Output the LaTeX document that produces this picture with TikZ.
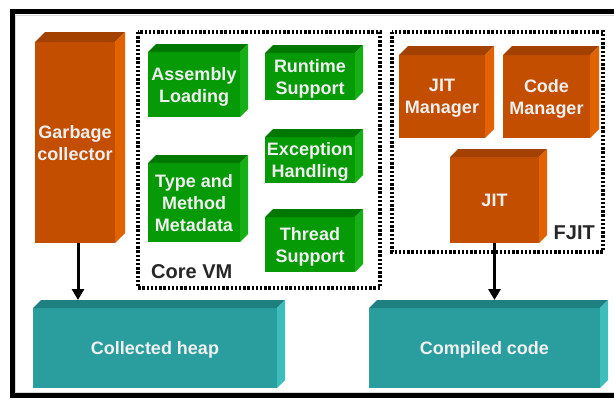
\documentclass[tikz,border=0pt]{standalone}
\usepackage{fontspec}
\setmainfont{Liberation Sans}
\usetikzlibrary{arrows.meta}
\definecolor{orF}{HTML}{C44E00}
\definecolor{orT}{HTML}{A34100}
\definecolor{orS}{HTML}{E36200}
\definecolor{grF}{HTML}{069A06}
\definecolor{grT}{HTML}{007800}
\definecolor{grS}{HTML}{14B014}
\definecolor{tlF}{HTML}{2A9E9E}
\definecolor{tlT}{HTML}{1E8080}
\definecolor{tlS}{HTML}{3EBDBD}
\newcommand{\cubefaces}[4]{%
  \fill[#3] (#1.north west) -- ++(#2,-#2) -- ([shift={(#2,-#2)}]#1.north east) -- (#1.north east) -- cycle;
  \fill[#4] (#1.north east) -- ++(#2,-#2) -- ([shift={(#2,-#2)}]#1.south east) -- (#1.south east) -- cycle;
}
\begin{document}
\begin{tikzpicture}[x=1pt,y=-1pt,
  box/.style={inner sep=0pt, outer sep=0pt, anchor=north west, text=white!94!black, align=center,
    text depth=0pt, font=\bfseries\fontsize{18}{22}\selectfont},
  orbox/.style={box, fill=orF},
  grbox/.style={box, fill=grF},
  tlbox/.style={box, fill=tlF},
  dotted frame/.style={draw=black, line width=3.2pt, dash pattern=on 2.4pt off 1.8pt},
  grouplabel/.style={font=\bfseries\fontsize{20}{24}\selectfont, text=black!85, inner sep=0pt},
  arr/.style={draw=black, line width=3pt, -{Triangle[width=12pt,length=11pt]}}]
\useasboundingbox (0,0) rectangle (614,399);
\fill[white] (0,0) rectangle (614,399);
% outer frame
\draw[black!15, line width=1pt] (614,15) -- (15.5,15) -- (15.5,392) -- (614,392);
\draw[line width=5.5pt] (614,11.5) -- (12.5,11.5) -- (12.5,395.5) -- (614,395.5);
% dotted group frames
\draw[dotted frame] (138,32) rectangle (380,288);
\draw[dotted frame] (392,32) rectangle (603,252);
\node[grouplabel, anchor=west] (corevm) at (151,272) {Core VM};
\node[grouplabel, anchor=east] (fjit) at (595,233) {FJIT};
% garbage collector
\node[orbox, minimum width=80pt, minimum height=201pt] (gc) at (35,42) {Garbage\\collector};
\cubefaces{gc}{10}{orT}{orS}
% core VM boxes
\node[grbox, minimum width=92pt, minimum height=65pt] (asm) at (148,52) {Assembly\\Loading};
\cubefaces{asm}{8}{grT}{grS}
\node[grbox, minimum width=92pt, minimum height=79pt] (type) at (148,163) {Type and\\Method\\Metadata};
\cubefaces{type}{8}{grT}{grS}
\node[grbox, minimum width=90pt, minimum height=47pt] (rt) at (265,53) {Runtime\\Support};
\cubefaces{rt}{8}{grT}{grS}
\node[grbox, minimum width=90pt, minimum height=46pt] (exc) at (265,137) {Exception\\Handling};
\cubefaces{exc}{8}{grT}{grS}
\node[grbox, minimum width=90pt, minimum height=55pt] (thr) at (265,217) {Thread\\Support};
\cubefaces{thr}{8}{grT}{grS}
% FJIT boxes
\node[orbox, minimum width=86pt, minimum height=83pt] (jitm) at (399,55) {JIT\\Manager};
\cubefaces{jitm}{9}{orT}{orS}
\node[orbox, minimum width=87pt, minimum height=83pt] (codem) at (503,55) {Code\\Manager};
\cubefaces{codem}{9}{orT}{orS}
\node[orbox, minimum width=89pt, minimum height=86pt] (jit) at (450,157) {JIT};
\cubefaces{jit}{8}{orT}{orS}
% bottom boxes
\node[tlbox, minimum width=244pt, minimum height=80pt] (heap) at (33,308) {Collected heap};
\cubefaces{heap}{8}{tlT}{tlS}
\node[tlbox, minimum width=231pt, minimum height=80pt] (comp) at (369,308) {Compiled code};
\cubefaces{comp}{8}{tlT}{tlS}
% arrows
\draw[arr] ([xshift=3pt]gc.south) -- ([xshift=3pt,yshift=8pt]gc.south |- heap.north);
\draw[arr] (jit.south) -- ([yshift=8pt]jit.south |- comp.north);
\end{tikzpicture}
\end{document}
